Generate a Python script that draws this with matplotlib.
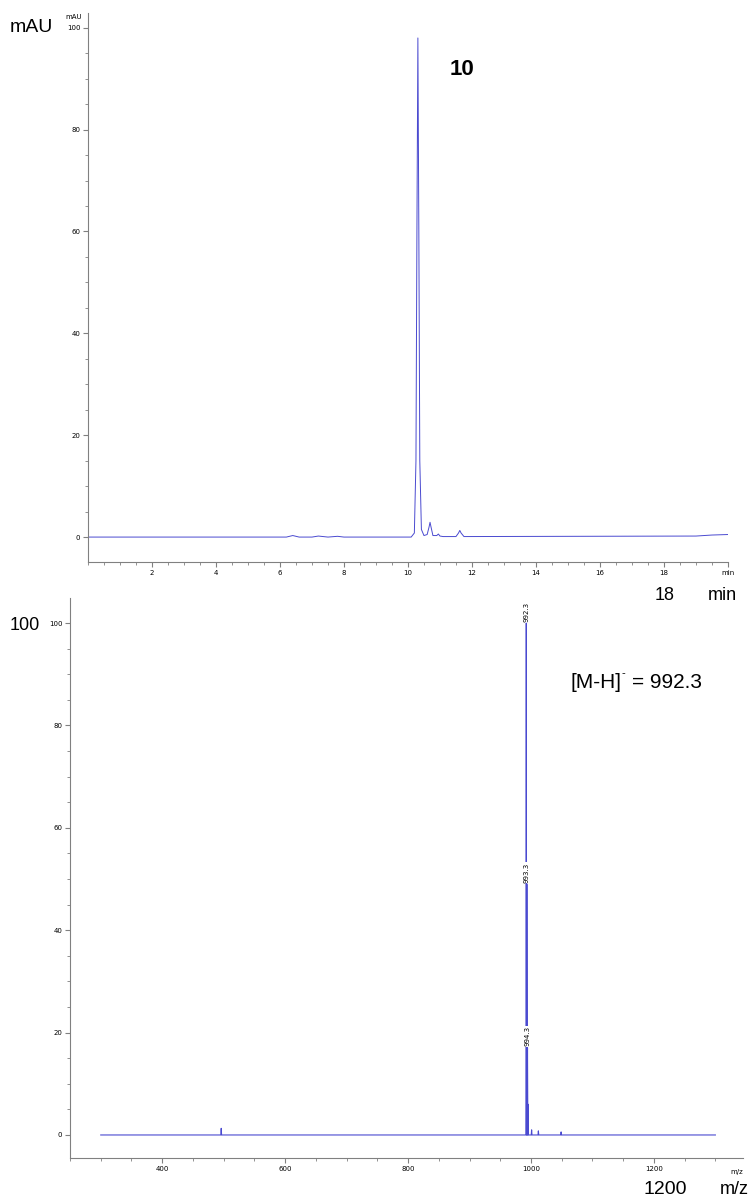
import numpy as np
import matplotlib
matplotlib.use('Agg')
import matplotlib.pyplot as plt
from matplotlib.ticker import MultipleLocator

# UV chromatogram trace (min, mAU)
rt = [0.0, 6.2, 6.4, 6.6, 7.0, 7.2, 7.5, 7.8, 8.0, 10.1, 10.2, 10.25, 10.28,
      10.31, 10.34, 10.37, 10.42, 10.5, 10.6, 10.66, 10.69, 10.72, 10.78, 10.9,
      10.95, 11.0, 11.1, 11.5, 11.58, 11.62, 11.66, 11.75, 19.0, 19.5, 20.0]
mau = [0.0, 0.0, 0.3, 0.0, 0.0, 0.2, 0.0, 0.15, 0.0, 0.0, 0.8, 15.0, 60.0,
       98.0, 60.0, 15.0, 1.5, 0.3, 0.5, 2.0, 2.9, 2.0, 0.3, 0.3,
       0.6, 0.2, 0.1, 0.1, 0.8, 1.3, 0.8, 0.1, 0.2, 0.4, 0.5]
rt_ticks = [2, 4, 6, 8, 10, 12, 14, 16, 18]

# MS spectrum peaks (m/z, relative intensity)
mz_peaks = [496.0, 992.3, 993.3, 994.3, 995.3, 1001.0, 1012.0, 1049.0]
rel_int = [1.3, 100.0, 49.0, 17.0, 6.0, 1.0, 0.8, 0.6]
# annotated peaks
ann_mz = [992.3, 993.3, 994.3]
ann_int = [100.0, 49.0, 17.0]
mz_range = [300.0, 1300.0]
mz_ticks = [400, 600, 800, 1000, 1200]

grey = '#808080'
trace_col = '#4a4ad0'
big = 'Liberation Sans'

fig = plt.figure(figsize=(7.52, 12.04), dpi=100)

def style(ax):
    for s in ['top', 'right']:
        ax.spines[s].set_visible(False)
    for s in ['left', 'bottom']:
        ax.spines[s].set_color(grey)
        ax.spines[s].set_linewidth(0.8)
    ax.tick_params(which='both', direction='out', color=grey, labelsize=5, pad=2)
    ax.tick_params(which='major', length=3.5)
    ax.tick_params(which='minor', length=2)

# --- chromatogram ---
ax1 = fig.add_axes([0.117, 0.5332, 0.851, 0.456])
ax1.plot(rt, mau, color=trace_col, lw=0.7)
ax1.set_xlim(0, 20)
ax1.set_ylim(-4.9, 102.9)
ax1.set_xticks(rt_ticks + [20])
ax1.set_xticklabels([str(t) for t in rt_ticks] + ['min'])
ax1.xaxis.set_minor_locator(MultipleLocator(0.5))
ax1.set_yticks([0, 20, 40, 60, 80, 100])
ax1.yaxis.set_minor_locator(MultipleLocator(5))
style(ax1)
ax1.text(-0.2, 102.2, 'mAU', fontsize=5, ha='right', va='center',
         family='DejaVu Sans', clip_on=False)
ax1.text(11.69, 91.8, '10', fontsize=16, fontweight='bold', ha='center', va='center',
         family=big)
fig.text(10 / 752, 1 - 28 / 1204, 'mAU', fontsize=14, ha='left', va='center', family=big)
fig.text(665 / 752, 1 - 595 / 1204, '18', fontsize=13, ha='center', va='center', family=big)
fig.text(722 / 752, 1 - 595 / 1204, 'min', fontsize=13, ha='center', va='center', family=big)

# --- mass spectrum ---
ax2 = fig.add_axes([0.0931, 0.0382, 0.895, 0.4651])
xs, ys = [mz_range[0]], [0.0]
for m, h in zip(mz_peaks, rel_int):
    xs += [m - 0.6, m, m + 0.6]
    ys += [0.0, h, 0.0]
xs.append(mz_range[1])
ys.append(0.0)
ax2.plot(xs, ys, color=trace_col, lw=0.8)
for m, h in zip(ann_mz, ann_int):
    ax2.text(m, h + 0.3, f'{m:.1f}', rotation=90, fontsize=5, ha='center', va='bottom',
             family='DejaVu Sans', clip_on=False,
             bbox=dict(facecolor='white', edgecolor='none', pad=0.3))
ax2.set_xlim(250, 1345)
ax2.set_ylim(-4.5, 104.9)
ax2.set_xticks(mz_ticks)
ax2.xaxis.set_minor_locator(MultipleLocator(50))
ax2.set_yticks([0, 20, 40, 60, 80, 100])
ax2.yaxis.set_minor_locator(MultipleLocator(5))
style(ax2)
ax2.text(1335, -6.6, 'm/z', fontsize=5, ha='center', va='top', family='DejaVu Sans')

# [M-H]- label built from pieces so the charge sign stays a small hyphen
fig.text(571 / 752, 1 - 683 / 1204, '[M-H]', fontsize=15, ha='left', va='center', family=big)
fig.text(621 / 752, 1 - 673 / 1204, '-', fontsize=8, ha='left', va='center', family=big)
fig.text(632 / 752, 1 - 683 / 1204, '= 992.3', fontsize=15, ha='left', va='center', family=big)

fig.text(10 / 752, 1 - 625 / 1204, '100', fontsize=13, ha='left', va='center', family=big)
fig.text(665 / 752, 1 - 1189 / 1204, '1200', fontsize=14, ha='center', va='center', family=big)
fig.text(734 / 752, 1 - 1189 / 1204, 'm/z', fontsize=13, ha='center', va='center', family=big)

fig.savefig('out.png', dpi=100)
